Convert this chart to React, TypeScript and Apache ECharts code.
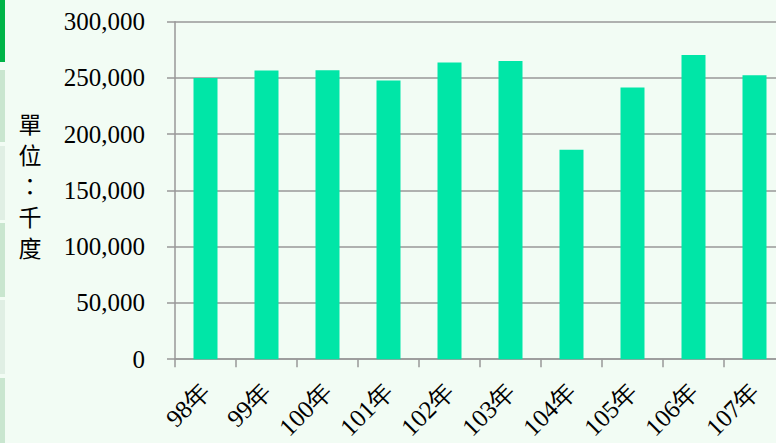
import React, { useEffect, useRef } from "react";
import * as echarts from "echarts";

const categories = ["98年", "99年", "100年", "101年", "102年", "103年", "104年", "105年", "106年", "107年"];
const values = [250000, 256600, 256800, 247700, 263700, 265100, 186100, 241500, 270500, 252400];
const yTicks = { min: 0, max: 300000, interval: 50000 };
const unitLabel = "單位：千度";

export default function App() {
  const ref = useRef<HTMLDivElement>(null);
  useEffect(() => {
    if (!ref.current) return;
    const chart = echarts.init(ref.current, null, { renderer: "svg" });
    const serif = "Times New Roman, Liberation Serif, serif";
    const strips = [
      { y: 0, h: 62, c: "#00b447" },
      { y: 70, h: 72, c: "#c9e6cf" },
      { y: 146, h: 74, c: "#e0efe4" },
      { y: 223, h: 74, c: "#c9e6cf" },
      { y: 300, h: 74, c: "#e0efe4" },
      { y: 378, h: 65, c: "#c9e6cf" },
    ];
    chart.setOption({
      animation: false,
      backgroundColor: "#f2fcf4",
      grid: {
        left: 175,
        top: 21.7,
        width: 610,
        height: 337.5,
        containLabel: false,
        outerBoundsMode: "none",
      },
      xAxis: {
        type: "category",
        data: categories,
        axisLine: { show: true, lineStyle: { color: "#999999", width: 1.5 } },
        axisTick: { show: true, length: 8, alignWithLabel: false, lineStyle: { color: "#999999", width: 1.5 } },
        axisLabel: {
          rotate: 45,
          margin: 28,
          fontSize: 25,
          color: "#000000",
          fontFamily: serif,
        },
      },
      yAxis: {
        type: "value",
        min: yTicks.min,
        max: yTicks.max,
        interval: yTicks.interval,
        axisLine: { show: true, lineStyle: { color: "#999999", width: 1.5 } },
        axisTick: { show: true, length: 8, lineStyle: { color: "#999999", width: 1.5 } },
        splitLine: { show: true, lineStyle: { color: "#999999", width: 1.5 } },
        axisLabel: {
          fontSize: 25,
          margin: 30,
          color: "#000000",
          fontFamily: serif,
          formatter: (v: number) => v.toLocaleString("en-US"),
        },
      },
      series: [
        {
          type: "bar",
          data: values,
          barWidth: 24,
          itemStyle: { color: "#00e6a7" },
        },
      ],
      graphic: [
        ...strips.map((s) => ({
          type: "rect",
          left: 0,
          top: s.y,
          shape: { width: 5, height: s.h },
          style: { fill: s.c },
          silent: true,
        })),
        ...unitLabel.split("").map((ch, i) => ({
          type: "text",
          x: 30,
          y: 123 + i * 31,
          style: {
            text: ch,
            fontSize: 23,
            fill: "#000000",
            fontFamily: "Noto Sans CJK TC",
            align: "center",
            verticalAlign: "middle",
          },
        })),
      ],
    });
    return () => chart.dispose();
  }, []);
  return (
    <div
      ref={ref}
      style={{ position: "fixed", left: 0, top: 0, width: 776, height: 443 }}
    />
  );
}
